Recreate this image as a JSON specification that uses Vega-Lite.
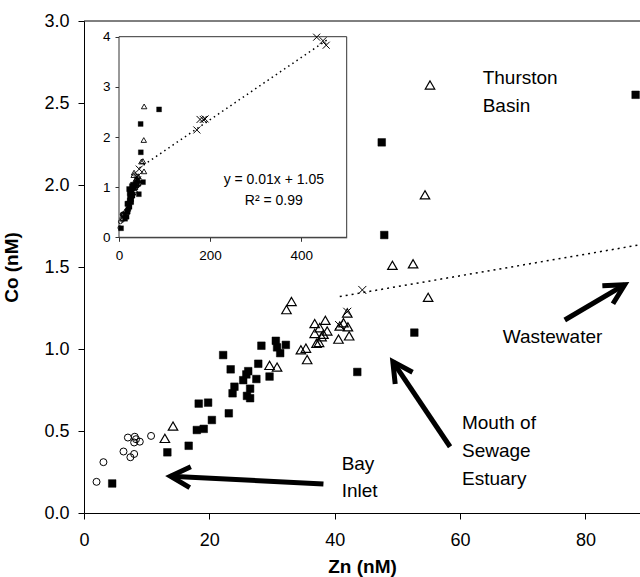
{
  "$schema": "https://vega.github.io/schema/vega-lite/v6.json",
  "width": 556,
  "height": 492,
  "autosize": {"type": "none"},
  "padding": {"left": 84, "top": 21, "right": 0, "bottom": 64},
  "background": "white",
  "config": {
    "font": "Liberation Sans",
    "view": {"stroke": null}
  },
  "datasets": {
    "samples": [
      {"group": "Bay Inlet", "zn": 2.0, "co": 0.19},
      {"group": "Bay Inlet", "zn": 3.1, "co": 0.31},
      {"group": "Bay Inlet", "zn": 6.3, "co": 0.375},
      {"group": "Bay Inlet", "zn": 7.0, "co": 0.46},
      {"group": "Bay Inlet", "zn": 7.4, "co": 0.34},
      {"group": "Bay Inlet", "zn": 8.0, "co": 0.36},
      {"group": "Bay Inlet", "zn": 8.1, "co": 0.465},
      {"group": "Bay Inlet", "zn": 8.3, "co": 0.45},
      {"group": "Bay Inlet", "zn": 8.0, "co": 0.43},
      {"group": "Bay Inlet", "zn": 8.9, "co": 0.435},
      {"group": "Bay Inlet", "zn": 10.7, "co": 0.47},
      {"group": "Survey A", "zn": 12.9, "co": 0.455},
      {"group": "Survey A", "zn": 14.2, "co": 0.53},
      {"group": "Survey A", "zn": 29.6, "co": 0.9},
      {"group": "Survey A", "zn": 30.8, "co": 0.89},
      {"group": "Survey A", "zn": 32.3, "co": 1.24},
      {"group": "Survey A", "zn": 33.1, "co": 1.29},
      {"group": "Survey A", "zn": 34.6, "co": 0.995},
      {"group": "Survey A", "zn": 35.4, "co": 1.005},
      {"group": "Survey A", "zn": 35.6, "co": 0.935},
      {"group": "Survey A", "zn": 36.8, "co": 1.155},
      {"group": "Survey A", "zn": 37.1, "co": 1.035},
      {"group": "Survey A", "zn": 37.5, "co": 1.04},
      {"group": "Survey A", "zn": 36.8, "co": 1.095},
      {"group": "Survey A", "zn": 37.6, "co": 1.13},
      {"group": "Survey A", "zn": 38.2, "co": 1.09},
      {"group": "Survey A", "zn": 38.5, "co": 1.175},
      {"group": "Survey A", "zn": 38.8, "co": 1.11},
      {"group": "Survey A", "zn": 37.9, "co": 1.075},
      {"group": "Survey A", "zn": 40.6, "co": 1.06},
      {"group": "Survey A", "zn": 40.8, "co": 1.14},
      {"group": "Survey A", "zn": 41.4, "co": 1.16},
      {"group": "Survey A", "zn": 42.0, "co": 1.22},
      {"group": "Survey A", "zn": 42.1, "co": 1.135},
      {"group": "Survey A", "zn": 42.3, "co": 1.08},
      {"group": "Survey A", "zn": 49.2, "co": 1.51},
      {"group": "Survey A", "zn": 52.5, "co": 1.52},
      {"group": "Survey A", "zn": 54.9, "co": 1.315},
      {"group": "Survey A", "zn": 54.4, "co": 1.94},
      {"group": "Survey A", "zn": 55.2, "co": 2.61},
      {"group": "Survey B", "zn": 4.5, "co": 0.18},
      {"group": "Survey B", "zn": 13.3, "co": 0.37},
      {"group": "Survey B", "zn": 16.7, "co": 0.41},
      {"group": "Survey B", "zn": 18.0, "co": 0.506},
      {"group": "Survey B", "zn": 18.3, "co": 0.667},
      {"group": "Survey B", "zn": 19.1, "co": 0.513},
      {"group": "Survey B", "zn": 19.8, "co": 0.673},
      {"group": "Survey B", "zn": 20.4, "co": 0.567},
      {"group": "Survey B", "zn": 22.2, "co": 0.963},
      {"group": "Survey B", "zn": 23.1, "co": 0.608},
      {"group": "Survey B", "zn": 23.4, "co": 0.876},
      {"group": "Survey B", "zn": 23.7, "co": 0.73},
      {"group": "Survey B", "zn": 24.0, "co": 0.77},
      {"group": "Survey B", "zn": 25.4, "co": 0.81},
      {"group": "Survey B", "zn": 25.9, "co": 0.845},
      {"group": "Survey B", "zn": 26.2, "co": 0.865},
      {"group": "Survey B", "zn": 26.0, "co": 0.714},
      {"group": "Survey B", "zn": 26.5, "co": 0.758},
      {"group": "Survey B", "zn": 26.5, "co": 0.7},
      {"group": "Survey B", "zn": 27.5, "co": 0.817},
      {"group": "Survey B", "zn": 27.8, "co": 0.91},
      {"group": "Survey B", "zn": 28.3, "co": 1.02},
      {"group": "Survey B", "zn": 29.6, "co": 0.832},
      {"group": "Survey B", "zn": 30.6, "co": 1.05},
      {"group": "Survey B", "zn": 30.8, "co": 1.01},
      {"group": "Survey B", "zn": 31.3, "co": 0.975},
      {"group": "Survey B", "zn": 32.2, "co": 1.025},
      {"group": "Survey B", "zn": 43.6, "co": 0.86},
      {"group": "Survey B", "zn": 47.5, "co": 2.26},
      {"group": "Survey B", "zn": 47.9, "co": 1.695},
      {"group": "Survey B", "zn": 52.7, "co": 1.1},
      {"group": "Survey B", "zn": 88.0, "co": 2.55},
      {"group": "Wastewater", "zn": 40.7, "co": 1.146},
      {"group": "Wastewater", "zn": 42.0, "co": 1.227},
      {"group": "Wastewater", "zn": 44.4, "co": 1.36},
      {"group": "Wastewater", "zn": 171, "co": 2.14},
      {"group": "Wastewater", "zn": 178, "co": 2.35},
      {"group": "Wastewater", "zn": 185, "co": 2.35},
      {"group": "Wastewater", "zn": 189, "co": 2.36},
      {"group": "Wastewater", "zn": 434, "co": 3.99},
      {"group": "Wastewater", "zn": 448, "co": 3.92},
      {"group": "Wastewater", "zn": 455, "co": 3.83}
    ],
    "fit_main": [
      {"zn": 40.8, "co": 1.32},
      {"zn": 90, "co": 1.644}
    ],
    "fit_inset": [
      {"zn": 45, "co": 1.385},
      {"zn": 456, "co": 3.93}
    ]
  },
  "layer": [
    {
      "data": {"name": "samples"},
      "transform": [{"filter": "datum.group == 'Bay Inlet' && datum.zn < 90"}],
      "mark": {"type": "point", "shape": "circle", "filled": false, "stroke": "black", "strokeWidth": 1, "opacity": 1, "size": 49},
      "encoding": {
        "x": {"field": "zn", "type": "quantitative", "scale": {"domain": [0, 88.7], "nice": false, "zero": false},
          "axis": {"orient": "bottom", "title": "Zn (nM)", "values": [0, 20, 40, 60, 80], "grid": false, "labelFlush": false, "domainColor": "black", "tickColor": "black", "labelColor": "black", "titleColor": "black", "tickSize": 6, "labelFontSize": 18, "labelPadding": 12, "titleFontSize": 19, "titleFontWeight": "bold", "titlePadding": 8}},
        "y": {"field": "co", "type": "quantitative", "scale": {"domain": [0, 3], "nice": false},
          "axis": {"orient": "left", "title": "Co (nM)", "values": [0, 0.5, 1, 1.5, 2, 2.5, 3], "format": ".1f", "grid": false, "labelFlush": false, "domainColor": "black", "tickColor": "black", "labelColor": "black", "titleColor": "black", "tickSize": 6, "labelFontSize": 18, "labelPadding": 9, "titleFontSize": 19, "titleFontWeight": "bold", "titlePadding": 22}}
      }
    },
    {
      "data": {"name": "samples"},
      "transform": [{"filter": "datum.group == 'Survey A' && datum.zn < 90"}],
      "mark": {"type": "point", "shape": "triangle-up", "filled": false, "stroke": "black", "strokeWidth": 1.2, "opacity": 1, "size": 90},
      "encoding": {
        "x": {"field": "zn", "type": "quantitative", "scale": {"domain": [0, 88.7], "nice": false, "zero": false}, "axis": null},
        "y": {"field": "co", "type": "quantitative", "scale": {"domain": [0, 3], "nice": false}, "axis": null}
      }
    },
    {
      "data": {"name": "samples"},
      "transform": [{"filter": "datum.group == 'Survey B' && datum.zn < 90"}],
      "mark": {"type": "point", "shape": "square", "filled": true, "fill": "black", "stroke": "black", "strokeWidth": 0.5, "opacity": 1, "size": 58},
      "encoding": {
        "x": {"field": "zn", "type": "quantitative", "scale": {"domain": [0, 88.7], "nice": false, "zero": false}, "axis": null},
        "y": {"field": "co", "type": "quantitative", "scale": {"domain": [0, 3], "nice": false}, "axis": null}
      }
    },
    {
      "data": {"name": "samples"},
      "transform": [{"filter": "datum.group == 'Wastewater' && datum.zn < 90"}],
      "mark": {"type": "point", "shape": "M-1,-1L1,1M-1,1L1,-1", "filled": false, "stroke": "black", "strokeWidth": 1, "opacity": 1, "size": 64},
      "encoding": {
        "x": {"field": "zn", "type": "quantitative", "scale": {"domain": [0, 88.7], "nice": false, "zero": false}, "axis": null},
        "y": {"field": "co", "type": "quantitative", "scale": {"domain": [0, 3], "nice": false}, "axis": null}
      }
    },
    {
      "data": {"name": "fit_main"},
      "mark": {"type": "line", "stroke": "black", "strokeWidth": 1.5, "strokeDash": [2, 4], "clip": true},
      "encoding": {
        "x": {"field": "zn", "type": "quantitative", "scale": {"domain": [0, 88.7], "nice": false, "zero": false}, "axis": null},
        "y": {"field": "co", "type": "quantitative", "scale": {"domain": [0, 3], "nice": false}, "axis": null}
      }
    },
    {
      "data": {"values": [{}]},
      "mark": {"type": "rule", "stroke": "black", "strokeWidth": 1},
      "encoding": {
        "y": {"datum": 3, "type": "quantitative", "scale": {"domain": [0, 3], "nice": false}, "axis": null}
      }
    },
    {
      "data": {"values": [{}]},
      "mark": {"type": "rule", "stroke": "black", "strokeWidth": 5, "strokeCap": "butt"},
      "encoding": {
        "x": {"datum": 38.2, "type": "quantitative", "scale": {"domain": [0, 88.7], "nice": false, "zero": false}, "axis": null},
        "y": {"datum": 0.177, "type": "quantitative", "scale": {"domain": [0, 3], "nice": false}, "axis": null},
        "x2": {"datum": 13.8}, "y2": {"datum": 0.224}
      }
    },
    {
      "data": {"values": [{}]},
      "mark": {"type": "rule", "stroke": "black", "strokeWidth": 5, "strokeCap": "butt"},
      "encoding": {
        "x": {"datum": 58.4, "type": "quantitative", "scale": {"domain": [0, 88.7], "nice": false, "zero": false}, "axis": null},
        "y": {"datum": 0.404, "type": "quantitative", "scale": {"domain": [0, 3], "nice": false}, "axis": null},
        "x2": {"datum": 49.27}, "y2": {"datum": 0.923}
      }
    },
    {
      "data": {"values": [{}]},
      "mark": {"type": "rule", "stroke": "black", "strokeWidth": 5, "strokeCap": "butt"},
      "encoding": {
        "x": {"datum": 76.7, "type": "quantitative", "scale": {"domain": [0, 88.7], "nice": false, "zero": false}, "axis": null},
        "y": {"datum": 1.177, "type": "quantitative", "scale": {"domain": [0, 3], "nice": false}, "axis": null},
        "x2": {"datum": 86.26}, "y2": {"datum": 1.392}
      }
    },
    {
      "data": {"values": [{}]},
      "mark": {"type": "point", "shape": "M-1.8,-0.95L0,0L-1.8,0.95", "filled": false, "stroke": "black", "strokeWidth": 5, "strokeJoin": "miter", "opacity": 1, "size": 484, "angle": 182.9},
      "encoding": {
        "x": {"datum": 13.8, "type": "quantitative", "scale": {"domain": [0, 88.7], "nice": false, "zero": false}, "axis": null},
        "y": {"datum": 0.224, "type": "quantitative", "scale": {"domain": [0, 3], "nice": false}, "axis": null}
      }
    },
    {
      "data": {"values": [{}]},
      "mark": {"type": "point", "shape": "M-1.8,-0.95L0,0L-1.8,0.95", "filled": false, "stroke": "black", "strokeWidth": 5, "strokeJoin": "miter", "opacity": 1, "size": 484, "angle": 236.1},
      "encoding": {
        "x": {"datum": 49.27, "type": "quantitative", "scale": {"domain": [0, 88.7], "nice": false, "zero": false}, "axis": null},
        "y": {"datum": 0.923, "type": "quantitative", "scale": {"domain": [0, 3], "nice": false}, "axis": null}
      }
    },
    {
      "data": {"values": [{}]},
      "mark": {"type": "point", "shape": "M-1.8,-0.95L0,0L-1.8,0.95", "filled": false, "stroke": "black", "strokeWidth": 5, "strokeJoin": "miter", "opacity": 1, "size": 484, "angle": 329.5},
      "encoding": {
        "x": {"datum": 86.26, "type": "quantitative", "scale": {"domain": [0, 88.7], "nice": false, "zero": false}, "axis": null},
        "y": {"datum": 1.392, "type": "quantitative", "scale": {"domain": [0, 3], "nice": false}, "axis": null}
      }
    },
    {
      "data": {"values": [{}]},
      "mark": {"type": "text", "text": ["Thurston", "Basin"], "align": "left", "baseline": "middle", "fontSize": 19, "lineHeight": 27.5, "color": "black"},
      "encoding": {
        "x": {"datum": 63.6, "type": "quantitative", "scale": {"domain": [0, 88.7], "nice": false, "zero": false}, "axis": null},
        "y": {"datum": 2.651, "type": "quantitative", "scale": {"domain": [0, 3], "nice": false}, "axis": null}
      }
    },
    {
      "data": {"values": [{}]},
      "mark": {"type": "text", "text": "Wastewater", "align": "left", "baseline": "middle", "fontSize": 19, "color": "black"},
      "encoding": {
        "x": {"datum": 66.8, "type": "quantitative", "scale": {"domain": [0, 88.7], "nice": false, "zero": false}, "axis": null},
        "y": {"datum": 1.075, "type": "quantitative", "scale": {"domain": [0, 3], "nice": false}, "axis": null}
      }
    },
    {
      "data": {"values": [{}]},
      "mark": {"type": "text", "text": ["Mouth of", "Sewage", "Estuary"], "align": "left", "baseline": "middle", "fontSize": 19, "lineHeight": 28, "color": "black"},
      "encoding": {
        "x": {"datum": 60.3, "type": "quantitative", "scale": {"domain": [0, 88.7], "nice": false, "zero": false}, "axis": null},
        "y": {"datum": 0.549, "type": "quantitative", "scale": {"domain": [0, 3], "nice": false}, "axis": null}
      }
    },
    {
      "data": {"values": [{}]},
      "mark": {"type": "text", "text": ["Bay", "Inlet"], "align": "left", "baseline": "middle", "fontSize": 19, "lineHeight": 27, "color": "black"},
      "encoding": {
        "x": {"datum": 41.1, "type": "quantitative", "scale": {"domain": [0, 88.7], "nice": false, "zero": false}, "axis": null},
        "y": {"datum": 0.299, "type": "quantitative", "scale": {"domain": [0, 3], "nice": false}, "axis": null}
      }
    },
    {
      "data": {"values": [{}]},
      "mark": {"type": "rect", "fill": "white", "stroke": "#333333", "strokeWidth": 1},
      "encoding": {
        "x": {"datum": 0, "type": "quantitative", "scale": {"domain": [0, 500], "nice": false, "zero": false, "range": [35, 262.7]},
          "axis": {"orient": "bottom", "offset": -275.7, "title": null, "values": [0, 200, 400], "grid": false, "labelFlush": false, "labelColor": "black", "tickSize": 4, "labelFontSize": 13.5, "labelPadding": 7, "domainColor": "#333333", "tickColor": "#333333"}},
        "y": {"datum": 0, "type": "quantitative", "scale": {"domain": [0, 4], "nice": false, "range": [216.3, 15.7]},
          "axis": {"orient": "left", "offset": -35, "title": null, "values": [0, 1, 2, 3, 4], "grid": false, "labelFlush": false, "labelColor": "black", "tickSize": 4, "labelFontSize": 13.5, "labelPadding": 5, "domainColor": "#333333", "tickColor": "#333333"}},
        "x2": {"datum": 500},
        "y2": {"datum": 4}
      }
    },
    {
      "data": {"name": "fit_inset"},
      "mark": {"type": "line", "stroke": "black", "strokeWidth": 1.5, "strokeDash": [1.5, 3.5]},
      "encoding": {
        "x": {"field": "zn", "type": "quantitative", "scale": {"domain": [0, 500], "nice": false, "zero": false, "range": [35, 262.7]}, "axis": null},
        "y": {"field": "co", "type": "quantitative", "scale": {"domain": [0, 4], "nice": false, "range": [216.3, 15.7]}, "axis": null}
      }
    },
    {
      "data": {"name": "samples"},
      "transform": [{"filter": "datum.group == 'Bay Inlet'"}],
      "mark": {"type": "point", "shape": "circle", "filled": false, "stroke": "black", "strokeWidth": 0.8, "opacity": 1, "size": 16},
      "encoding": {
        "x": {"field": "zn", "type": "quantitative", "scale": {"domain": [0, 500], "nice": false, "zero": false, "range": [35, 262.7]}, "axis": null},
        "y": {"field": "co", "type": "quantitative", "scale": {"domain": [0, 4], "nice": false, "range": [216.3, 15.7]}, "axis": null}
      }
    },
    {
      "data": {"name": "samples"},
      "transform": [{"filter": "datum.group == 'Survey A'"}],
      "mark": {"type": "point", "shape": "triangle-up", "filled": false, "stroke": "black", "strokeWidth": 0.9, "opacity": 1, "size": 30},
      "encoding": {
        "x": {"field": "zn", "type": "quantitative", "scale": {"domain": [0, 500], "nice": false, "zero": false, "range": [35, 262.7]}, "axis": null},
        "y": {"field": "co", "type": "quantitative", "scale": {"domain": [0, 4], "nice": false, "range": [216.3, 15.7]}, "axis": null}
      }
    },
    {
      "data": {"name": "samples"},
      "transform": [{"filter": "datum.group == 'Survey B'"}],
      "mark": {"type": "point", "shape": "square", "filled": true, "fill": "black", "stroke": "black", "strokeWidth": 0.3, "opacity": 1, "size": 25},
      "encoding": {
        "x": {"field": "zn", "type": "quantitative", "scale": {"domain": [0, 500], "nice": false, "zero": false, "range": [35, 262.7]}, "axis": null},
        "y": {"field": "co", "type": "quantitative", "scale": {"domain": [0, 4], "nice": false, "range": [216.3, 15.7]}, "axis": null}
      }
    },
    {
      "data": {"name": "samples"},
      "transform": [{"filter": "datum.group == 'Wastewater'"}],
      "mark": {"type": "point", "shape": "M-1,-1L1,1M-1,1L1,-1", "filled": false, "stroke": "black", "strokeWidth": 1, "opacity": 1, "size": 49},
      "encoding": {
        "x": {"field": "zn", "type": "quantitative", "scale": {"domain": [0, 500], "nice": false, "zero": false, "range": [35, 262.7]}, "axis": null},
        "y": {"field": "co", "type": "quantitative", "scale": {"domain": [0, 4], "nice": false, "range": [216.3, 15.7]}, "axis": null}
      }
    },
    {
      "data": {"values": [{}]},
      "mark": {"type": "text", "text": "y = 0.01x + 1.05", "align": "center", "baseline": "middle", "fontSize": 14, "color": "black"},
      "encoding": {
        "x": {"datum": 340, "type": "quantitative", "scale": {"domain": [0, 500], "nice": false, "zero": false, "range": [35, 262.7]}, "axis": null},
        "y": {"datum": 1.14, "type": "quantitative", "scale": {"domain": [0, 4], "nice": false, "range": [216.3, 15.7]}, "axis": null}
      }
    },
    {
      "data": {"values": [{}]},
      "mark": {"type": "text", "text": "R² = 0.99", "align": "center", "baseline": "middle", "fontSize": 14, "color": "black"},
      "encoding": {
        "x": {"datum": 340, "type": "quantitative", "scale": {"domain": [0, 500], "nice": false, "zero": false, "range": [35, 262.7]}, "axis": null},
        "y": {"datum": 0.72, "type": "quantitative", "scale": {"domain": [0, 4], "nice": false, "range": [216.3, 15.7]}, "axis": null}
      }
    }
  ],
  "resolve": {
    "scale": {"x": "independent", "y": "independent"}
  }
}
